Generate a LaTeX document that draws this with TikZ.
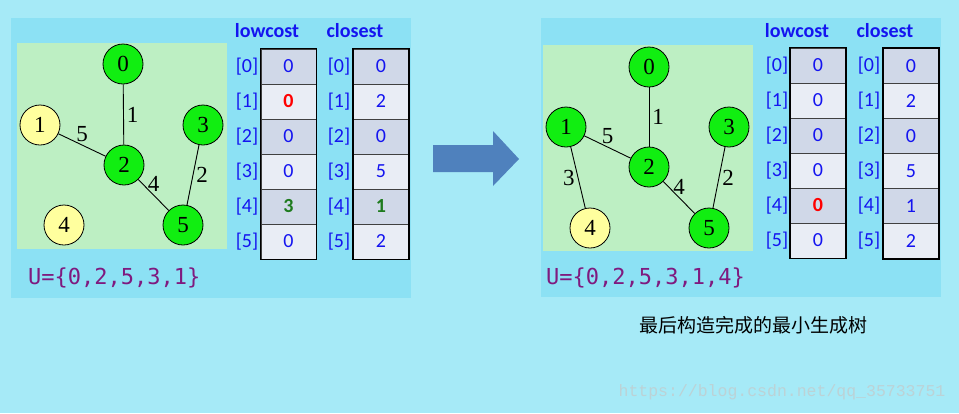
\documentclass[tikz,border=0pt]{standalone}
\usepackage{fontspec}
\setmainfont{Liberation Serif}
\newfontfamily\calib{Carlito}
\newfontfamily\consol{DejaVu Sans Mono}
\newfontfamily\cjk{Noto Sans CJK SC}
\newfontfamily\wmfont{Liberation Mono}
\usetikzlibrary{positioning, fit}

\definecolor{skybg}{HTML}{A6EAF7}
\definecolor{panelbg}{HTML}{8CE1F4}
\definecolor{graphbg}{HTML}{BDEFC3}
\definecolor{vgreen}{HTML}{11EE11}
\definecolor{vyellow}{HTML}{FFFF9E}
\definecolor{celldark}{HTML}{D0D8E8}
\definecolor{celllight}{HTML}{E9EDF5}
\definecolor{tblue}{HTML}{1414F0}
\definecolor{setpurple}{HTML}{7F1A7F}
\definecolor{arrowblue}{HTML}{4F81BD}
\definecolor{wmark}{HTML}{BCD2D6}
\definecolor{hired}{HTML}{FF0000}
\definecolor{higreen}{HTML}{1E7B1E}

\newcommand{\redv}[1]{\textcolor{hired}{\bfseries #1}}
\newcommand{\grnv}[1]{\textcolor{higreen}{\bfseries #1}}

\begin{document}
\begin{tikzpicture}[x=1pt, y=-1pt,
   vtx/.style={circle, draw, line width=0.8pt, minimum size=40pt, inner sep=0pt, font=\fontsize{23}{23}\selectfont},
   done/.style={vtx, fill=vgreen},
   todo/.style={vtx, fill=vyellow},
   wt/.style={font=\fontsize{23}{23}\selectfont, inner sep=3pt},
   cell/.style={draw=black!75, line width=1pt, minimum width=55pt, minimum height=35pt, inner sep=0pt, text=tblue, font=\calib\fontsize{20}{20}\selectfont},
   cell0/.style={cell, fill=celldark},
   cell1/.style={cell, fill=celllight},
   idx/.style={text=tblue, font=\calib\fontsize{20}{20}\selectfont},
   head/.style={text=tblue, font=\calib\bfseries\fontsize{20}{20}\selectfont},
   uset/.style={text=setpurple, anchor=west, inner sep=0pt, font=\consol\fontsize{22}{22}\selectfont},
   column/.style={draw, line width=1.8pt, inner sep=0pt}]

   % backgrounds
   \fill[skybg] (0,0) rectangle (959,413);
   \fill[panelbg] (11,18) rectangle (411,298);
   \fill[panelbg] (541,18) rectangle (941,297);
   \fill[graphbg] (17,43) rectangle (227,249);
   \fill[graphbg] (543,45) rectangle (753,251);

   % left graph
   \node[done] (a0) at (123,64) {0};
   \node[todo] (a1) at (40,125) {1};
   \node[done] (a2) at (124,165) {2};
   \node[done] (a3) at (203,125) {3};
   \node[todo] (a4) at (64,225) {4};
   \node[done] (a5) at (183,225) {5};

   \path[line width=0.9pt]
    (a0) edge node[wt, right] {1} (a2)
    (a1) edge node[wt, above] {5} (a2)
    (a2) edge node[wt, above] {4} (a5)
    (a3) edge node[wt, right] {2} (a5);

   % left tables
   \node[head] (alowhd) at (267,31) {lowcost};
   \node[head] (aclohd) at (355,31) {closest};
   \foreach \v [count=\i from 0] in {0,\redv{0},0,0,\grnv{3},0} {
     \pgfmathtruncatemacro\rowpar{mod(\i,2)}
     \node[cell\rowpar] (alow\i) at (288.5,{66.5+35*\i}) {\v};
     \node[idx] (alowix\i) at (247,{66.5+35*\i}) {[\i]};
   }
   \foreach \v [count=\i from 0] in {0,2,0,5,\grnv{1},2} {
     \pgfmathtruncatemacro\rowpar{mod(\i,2)}
     \node[cell\rowpar] (aclo\i) at (381,{66.5+35*\i}) {\v};
     \node[idx] (acloix\i) at (339,{66.5+35*\i}) {[\i]};
   }
   \node[column, fit=(alow0)(alow5)] (alowbox) {};
   \node[column, fit=(aclo0)(aclo5)] (aclobox) {};
   \node[uset] (aset) at (28,278) {U=\{0,2,5,3,1\}};

   % arrow
   \fill[arrowblue] (433,145) -- (493,145) -- (493,131) -- (519,159)
     -- (493,186) -- (493,172) -- (433,172) -- cycle;

   % right graph
   \node[done] (b0) at (649,67) {0};
   \node[done] (b1) at (566,127) {1};
   \node[done] (b2) at (649,167) {2};
   \node[done] (b3) at (729,127) {3};
   \node[todo] (b4) at (590,228) {4};
   \node[done] (b5) at (709,228) {5};

   \path[line width=0.9pt]
    (b0) edge node[wt, right] {1} (b2)
    (b1) edge node[wt, above] {5} (b2)
    (b1) edge node[wt, left] {3} (b4)
    (b2) edge node[wt, above] {4} (b5)
    (b3) edge node[wt, right] {2} (b5);

   % right tables
   \node[head] (blowhd) at (797,31) {lowcost};
   \node[head] (bclohd) at (885,31) {closest};
   \foreach \v [count=\i from 0] in {0,0,0,0,\redv{0},0} {
     \pgfmathtruncatemacro\rowpar{mod(\i,2)}
     \node[cell\rowpar] (blow\i) at (818,{65.5+35*\i}) {\v};
     \node[idx] (blowix\i) at (777,{65.5+35*\i}) {[\i]};
   }
   \foreach \v [count=\i from 0] in {0,2,0,5,1,2} {
     \pgfmathtruncatemacro\rowpar{mod(\i,2)}
     \node[cell\rowpar] (bclo\i) at (911,{66+35*\i}) {\v};
     \node[idx] (bcloix\i) at (869,{66+35*\i}) {[\i]};
   }
   \node[column, fit=(blow0)(blow5)] (blowbox) {};
   \node[column, fit=(bclo0)(bclo5)] (bclobox) {};
   \node[uset] (bset) at (546,278) {U=\{0,2,5,3,1,4\}};

   \node[font=\cjk\fontsize{19}{19}\selectfont] (caption) at (753,325) {最后构造完成的最小生成树};
   \node[text=wmark, font=\wmfont\fontsize{16.5}{16.5}\selectfont] (wm) at (782,392) {https://blog.csdn.net/qq\_35733751};
\end{tikzpicture}
\end{document}
